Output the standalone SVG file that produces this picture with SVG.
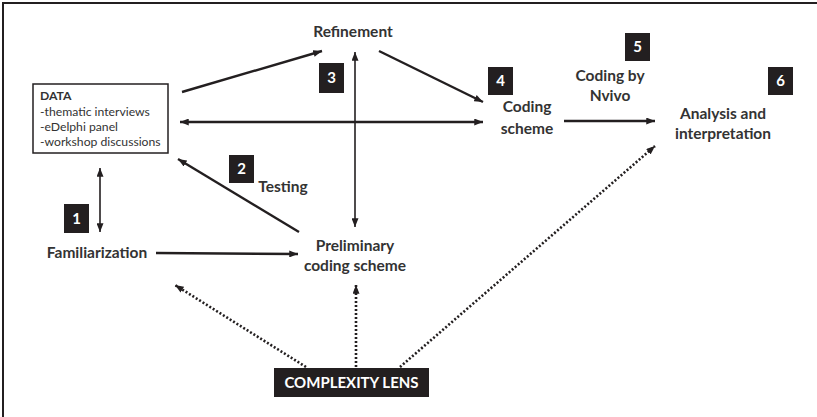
<svg xmlns="http://www.w3.org/2000/svg" width="817" height="417" viewBox="0 0 817 417">
<style>
.lbl{font-family:Lato,"Open Sans",sans-serif;font-weight:bold;font-size:15.5px;fill:#333;text-anchor:middle}
.small{font-family:Lato,"Open Sans",sans-serif;font-size:12.2px;fill:#333}
.num{font-family:Lato,"Open Sans",sans-serif;font-weight:bold;font-size:15px;fill:#fff;text-anchor:middle}
.nb{fill:#231f20}
.a{stroke:#231f20;stroke-width:2.4;fill:none}
.t{stroke:#231f20;stroke-width:1.6;fill:none}
.d{stroke:#231f20;stroke-width:2.6;fill:none;stroke-dasharray:2 2}
</style>
<defs>
<marker id="ah" viewBox="0 0 10 8" refX="10" refY="4" markerWidth="9" markerHeight="7" markerUnits="userSpaceOnUse" orient="auto-start-reverse">
<path d="M0,0 L10,4 L0,8 z" fill="#231f20"/>
</marker>
</defs>
<rect width="817" height="417" fill="#fff"/>
<path d="M3,417 V3 H817" stroke="#231f20" stroke-width="2" fill="none"/>
<g id="connectors">
<line class="a" x1="182" y1="92" x2="322" y2="51" marker-end="url(#ah)"/>
<line class="t" x1="355" y1="52" x2="355" y2="227" marker-start="url(#ah)" marker-end="url(#ah)"/>
<line class="a" x1="379" y1="51" x2="483" y2="102" marker-end="url(#ah)"/>
<line class="a" x1="180" y1="122" x2="483" y2="122" marker-start="url(#ah)" marker-end="url(#ah)"/>
<line class="a" x1="564" y1="121" x2="655" y2="121" marker-end="url(#ah)"/>
<line class="a" x1="299" y1="232" x2="178" y2="159" marker-end="url(#ah)"/>
<line class="a" x1="156" y1="253" x2="298" y2="254" marker-end="url(#ah)"/>
<line class="t" x1="100" y1="168" x2="100" y2="232" marker-start="url(#ah)" marker-end="url(#ah)"/>
<line class="d" x1="306" y1="367" x2="175" y2="285" marker-end="url(#ah)"/>
<line class="d" x1="356" y1="367" x2="356" y2="285" marker-end="url(#ah)"/>
<line class="d" x1="400" y1="367" x2="655" y2="146" marker-end="url(#ah)"/>
</g>
<g id="data">
<rect x="33" y="84" width="135" height="69" fill="#fff" stroke="#231f20" stroke-width="1.5"/>
<text class="small" x="40" y="100" font-weight="bold">DATA</text>
<text class="small" x="40" y="116">-thematic interviews</text>
<text class="small" x="40" y="131">-eDelphi panel</text>
<text class="small" x="40" y="146">-workshop discussions</text>
</g>
<g id="refinement"><text class="lbl" x="353" y="37">Refinement</text></g>
<g id="familiarization"><text class="lbl" x="97" y="258">Familiarization</text></g>
<g id="preliminary"><text class="lbl" x="355" y="251">Preliminary</text><text class="lbl" x="355" y="271">coding scheme</text></g>
<g id="testing"><text class="lbl" x="283" y="192">Testing</text></g>
<g id="coding-scheme"><text class="lbl" x="527" y="112">Coding</text><text class="lbl" x="527" y="134">scheme</text></g>
<g id="coding-nvivo"><text class="lbl" x="610" y="81">Coding by</text><text class="lbl" x="610" y="101">Nvivo</text></g>
<g id="analysis"><text class="lbl" x="723" y="119">Analysis and</text><text class="lbl" x="723" y="139">interpretation</text></g>
<g id="n1"><rect class="nb" x="64" y="204" width="25" height="29"/><text class="num" x="76.5" y="224">1</text></g>
<g id="n2"><rect class="nb" x="229" y="155" width="25" height="28"/><text class="num" x="241.5" y="174">2</text></g>
<g id="n3"><rect class="nb" x="319" y="63" width="25" height="30"/><text class="num" x="331.5" y="83">3</text></g>
<g id="n4"><rect class="nb" x="488" y="67" width="25" height="28"/><text class="num" x="500.5" y="86">4</text></g>
<g id="n5"><rect class="nb" x="625" y="33" width="25" height="28"/><text class="num" x="637.5" y="52">5</text></g>
<g id="n6"><rect class="nb" x="768" y="67" width="25" height="28"/><text class="num" x="780.5" y="86">6</text></g>
<g id="lens"><rect class="nb" x="274" y="368" width="155" height="29"/><text class="num" x="351.5" y="388" font-size="14">COMPLEXITY LENS</text></g>
</svg>
